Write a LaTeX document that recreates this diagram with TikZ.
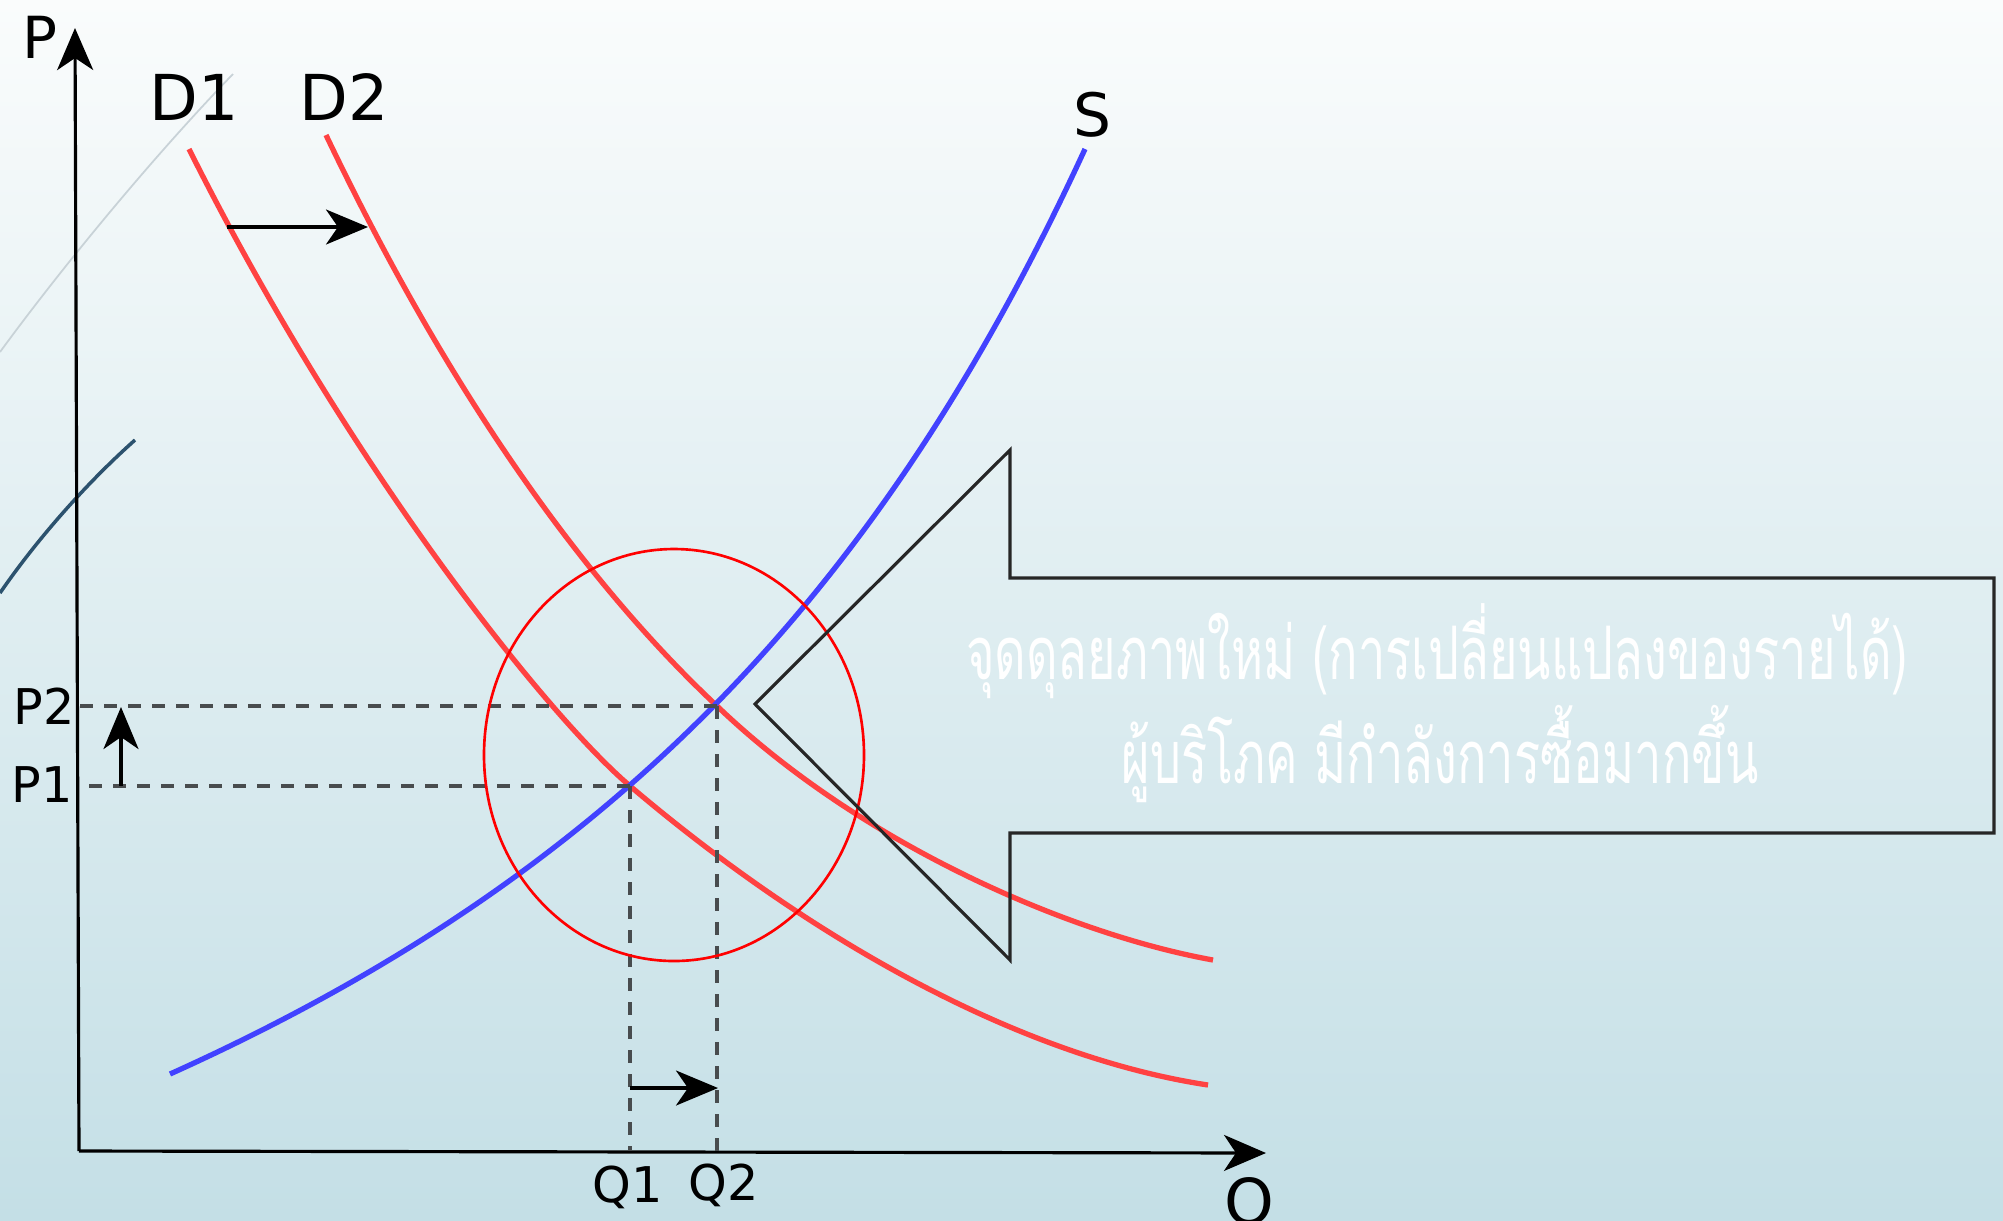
\documentclass[tikz,border=0pt]{standalone}
\usepackage{fontspec}
\setmainfont{DejaVu Sans}
\newfontfamily\thaifont[Script=Thai,FakeStretch=0.66]{Loma}
\usetikzlibrary{positioning,arrows.meta}
\definecolor{bgtop}{RGB}{250,252,252}
\definecolor{bgbottom}{RGB}{196,223,230}
\definecolor{demand}{RGB}{255,66,66}
\definecolor{supply}{RGB}{66,66,255}
\definecolor{outline}{RGB}{38,38,38}
\definecolor{guide}{RGB}{72,76,78}
\definecolor{faint}{RGB}{200,210,215}
\definecolor{slate}{RGB}{44,82,110}

\begin{document}
\begin{tikzpicture}[x=0.01cm, y=-0.01cm,
  ax/.style={-{Stealth[length=4.2mm, width=3.6mm, inset=1.2mm]}, line width=0.9pt, color=black},
  sh/.style={-{Stealth[length=4.2mm, width=3.5mm, inset=1.2mm]}, line width=0.9pt, color=black},
  dm/.style={line width=1.5pt, color=demand},
  sp/.style={line width=1.5pt, color=supply},
  gd/.style={dash pattern=on 0.13cm off 0.11cm, line width=0.95pt, color=guide},
  lb/.style={inner sep=0pt, font=\fontsize{18}{20}\selectfont},
  tk/.style={inner sep=0pt, font=\fontsize{14}{16}\selectfont},
  msg/.style={inner sep=0pt, text=white, font=\thaifont\fontsize{21}{25}\selectfont}
]
\useasboundingbox (0,0) rectangle (2003,1220);
\shade[top color=bgtop, bottom color=bgbottom] (0,0) rectangle (2003,1220);

% faint strokes at the left edge
\draw[faint, line width=0.5pt] (0,352) .. controls (60,270) and (150,160) .. (233,74);
\draw[slate, line width=1pt] (0,593) .. controls (40,535) and (90,480) .. (135,440);

% axes
\coordinate (O) at (79,1151);
\coordinate (ptop) at (75,28);
\coordinate (qend) at (1266,1153);
\draw[ax] (O) -- (ptop);
\draw[ax] (O) -- (qend);
\node[lb, font=\fontsize{16.5}{18}\selectfont] (plab) at (40,37) {P};
\node[lb] (qlab) at (1249,1205) {Q};

% equilibria
\coordinate (e1) at (630,786);
\coordinate (e2) at (717,706);

% demand and supply
\draw[dm] (189,149) .. controls (350,471) and (550,718) .. (e1)
  .. controls (815,943) and (1023,1057) .. (1208,1085);
\draw[dm] (326,135) .. controls (463,422) and (603,599) .. (e2)
  .. controls (861,844) and (1069,934) .. (1213,960);
\draw[sp] (170,1074) .. controls (603,879) and (877,601) .. (1085,149);
\node[lb] (d1lab) at (194,97) {D1};
\node[lb, right=0.6cm of d1lab] (d2lab) {D2};
\node[lb, font=\fontsize{17}{19}\selectfont] (slab) at (1092,115) {S};

% guide lines to the axes
\draw[gd] (e1) -- (e1 -| O);
\draw[gd] (e2) -- (e2 -| O);
\draw[gd] (e1) -- (e1 |- O);
\draw[gd] (e2) -- (e2 |- O);
\node[tk] (p2lab) at (44,706) {P2};
\node[tk] (p1lab) at (42,785) {P1};
\node[tk] (q1lab) at (628,1187) {Q1};
\node[tk] (q2lab) at (724,1185) {Q2};

% shift arrows
\coordinate (da) at (227,227);
\coordinate (db) at (368,227);
\draw[sh] (da) -- (db);
\coordinate (qa) at (630,1088);
\coordinate (qb) at (718,1088);
\draw[sh] (qa) -- (qb);
\coordinate (pa) at (121,786);
\coordinate (pb) at (121,707);
\draw[sh] (pa) -- (pb);

% circle round the new equilibrium
\draw[red, line width=0.75pt] (674,755) ellipse [x radius=190, y radius=206];

% callout arrow
\coordinate (tip) at (755,704);
\coordinate (ht) at (1010,450);
\coordinate (hb) at (1010,960);
\draw[outline, line width=0.9pt] (tip) -- (ht) -- (1010,578) -- (1994,578)
  -- (1994,833) -- (1010,833) -- (hb) -- cycle;
\node[msg] (msg1) at (1437,651) {จุดดุลยภาพใหม่ (การเปลี่ยนแปลงของรายได้)};
\node[msg] (msg2) at (1440,754) {ผู้บริโภค มีกำลังการซื้อมากขึ้น};
\end{tikzpicture}
\end{document}
